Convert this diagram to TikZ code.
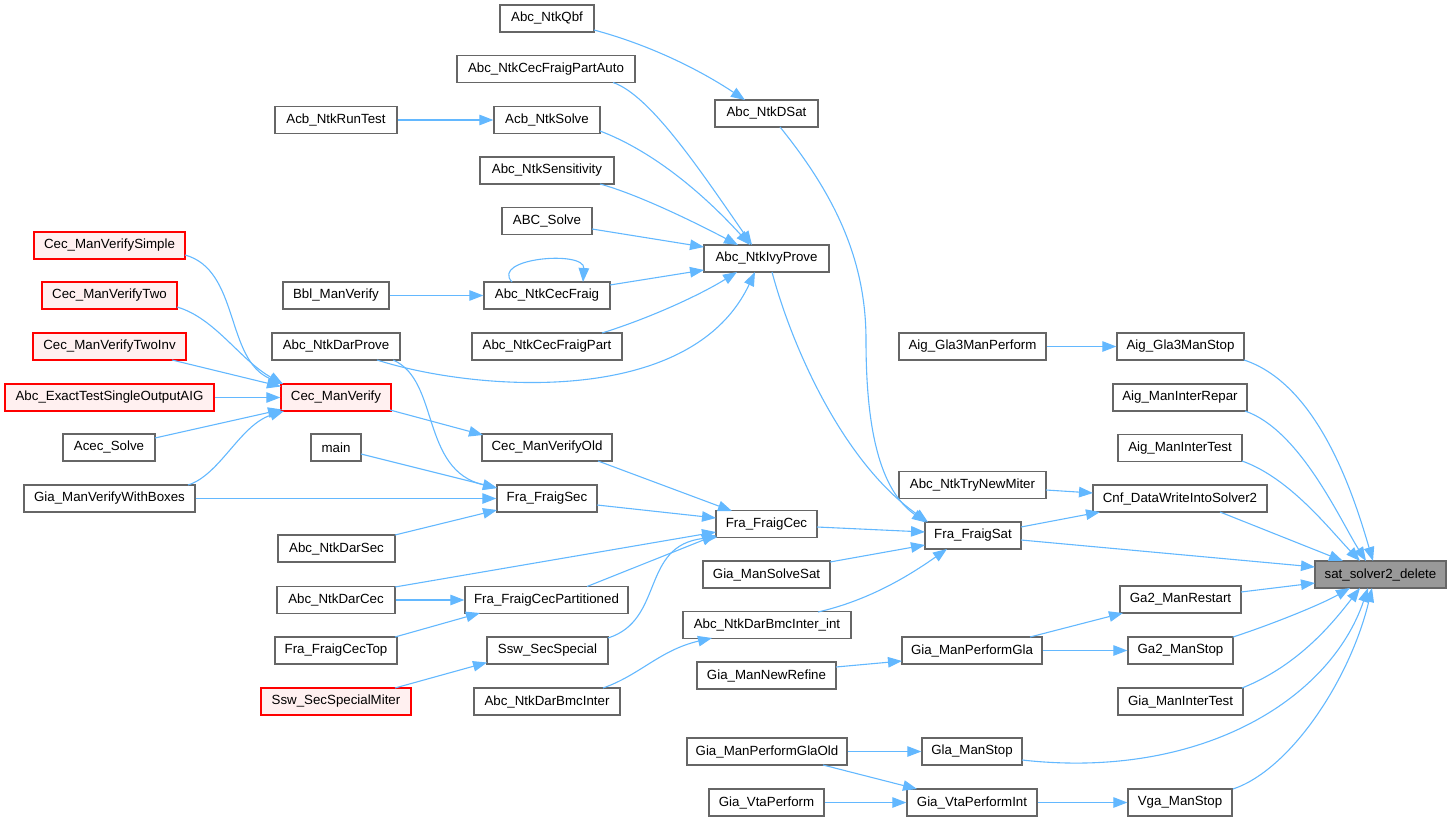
\documentclass[tikz,border=0pt]{standalone}
\usepackage{fontspec}
\setmainfont{Liberation Sans}
\usetikzlibrary{arrows.meta,calc}
\definecolor{boxgray}{HTML}{666666}
\definecolor{edgeblue}{HTML}{63B8FF}
\definecolor{redfill}{HTML}{FFF0F0}
\definecolor{satfill}{HTML}{999999}
\begin{document}
\begin{tikzpicture}[x=1pt,y=-1pt,
  fn/.style={draw=boxgray, line width=1.3pt, fill=white, minimum height=27pt, inner sep=0pt, font=\fontsize{13.3}{16}\selectfont},
  rfn/.style={fn, draw=red, fill=redfill},
  sfn/.style={fn, fill=satfill},
  call/.style={draw=edgeblue, line width=1.1pt, -{Triangle[length=14pt,width=10.5pt]}}]
\useasboundingbox (0,0) rectangle (1451,821);
% nodes
\node[fn, minimum width=94]  (qbf) at (547,18.5) {Abc\_NtkQbf};
\node[fn, minimum width=178] (partauto) at (546,69) {Abc\_NtkCecFraigPartAuto};
\node[fn, minimum width=106] (acbsolve) at (547,120) {Acb\_NtkSolve};
\node[fn, minimum width=134] (sens) at (547,170.5) {Abc\_NtkSensitivity};
\node[fn, minimum width=90]  (abcsolve) at (547,221) {ABC\_Solve};
\node[fn, minimum width=103] (dsat) at (766.5,113.5) {Abc\_NtkDSat};
\node[fn, minimum width=125] (ivy) at (766.5,258.5) {Abc\_NtkIvyProve};
\node[fn, minimum width=122] (runtest) at (336,120) {Acb\_NtkRunTest};
\node[fn, minimum width=126] (cecfraig) at (547,295.5) {Abc\_NtkCecFraig};
\node[fn, minimum width=106] (bbl) at (336,295.5) {Bbl\_ManVerify};
\node[fn, minimum width=150] (fraigpart) at (547,346.5) {Abc\_NtkCecFraigPart};
\node[fn, minimum width=128] (darprove) at (336,346.5) {Abc\_NtkDarProve};
\node[rfn, minimum width=110] (cecverify) at (336,397.5) {Cec\_ManVerify};
\node[fn, minimum width=50]  (mainn) at (336,447.5) {main};
\node[fn, minimum width=130] (verifyold) at (547,447.5) {Cec\_ManVerifyOld};
\node[fn, minimum width=100] (fraigsec) at (547,498.5) {Fra\_FraigSec};
\node[rfn, minimum width=151] (simple) at (109.5,245.5) {Cec\_ManVerifySimple};
\node[rfn, minimum width=135] (two) at (109.5,295.5) {Cec\_ManVerifyTwo};
\node[rfn, minimum width=153] (twoinv) at (109.5,346.5) {Cec\_ManVerifyTwoInv};
\node[rfn, minimum width=209] (exact) at (109.5,397.5) {Abc\_ExactTestSingleOutputAIG};
\node[fn, minimum width=92]  (acec) at (109,447.5) {Acec\_Solve};
\node[fn, minimum width=171] (boxes) at (109.5,498.5) {Gia\_ManVerifyWithBoxes};
\node[fn, minimum width=117] (darsec) at (336.5,548.5) {Abc\_NtkDarSec};
\node[fn, minimum width=118] (darcec) at (336,600) {Abc\_NtkDarCec};
\node[fn, minimum width=122] (cectop) at (336,650.5) {Fra\_FraigCecTop};
\node[rfn, minimum width=150] (miter) at (336,701.5) {Ssw\_SecSpecialMiter};
\node[fn, minimum width=101] (fraigcec) at (766.5,524) {Fra\_FraigCec};
\node[fn, minimum width=163] (cecpart) at (546.5,600) {Fra\_FraigCecPartitioned};
\node[fn, minimum width=121] (sswsec) at (547.5,650.5) {Ssw\_SecSpecial};
\node[fn, minimum width=146] (bmcinter) at (547,701.5) {Abc\_NtkDarBmcInter};
\node[fn, minimum width=127] (solvesat) at (766.5,574.5) {Gia\_ManSolveSat};
\node[fn, minimum width=168] (bmcint) at (767,625) {Abc\_NtkDarBmcInter\_int};
\node[fn, minimum width=139] (newrefine) at (766.5,675.5) {Gia\_ManNewRefine};
\node[fn, minimum width=160] (glaold) at (767,751.5) {Gia\_ManPerformGlaOld};
\node[fn, minimum width=115] (vtaperf) at (766.5,802.5) {Gia\_VtaPerform};
\node[fn, minimum width=147] (gla3perf) at (972.5,346.5) {Aig\_Gla3ManPerform};
\node[fn, minimum width=147] (trynew) at (972.5,485) {Abc\_NtkTryNewMiter};
\node[fn, minimum width=96]  (fraigsat) at (973,535.5) {Fra\_FraigSat};
\node[fn, minimum width=140] (perfgla) at (972,650.5) {Gia\_ManPerformGla};
\node[fn, minimum width=100] (glastop) at (972,751.5) {Gla\_ManStop};
\node[fn, minimum width=130] (vtaint) at (972,802.5) {Gia\_VtaPerformInt};
\node[fn, minimum width=127] (gla3stop) at (1180.5,346.5) {Aig\_Gla3ManStop};
\node[fn, minimum width=134] (repar) at (1180,397.5) {Aig\_ManInterRepar};
\node[fn, minimum width=124] (aigintertest) at (1180,448) {Aig\_ManInterTest};
\node[fn, minimum width=174] (cnf) at (1180,498.5) {Cnf\_DataWriteIntoSolver2};
\node[fn, minimum width=121] (restart) at (1180.5,599.5) {Ga2\_ManRestart};
\node[fn, minimum width=105] (ga2stop) at (1180.5,650.5) {Ga2\_ManStop};
\node[fn, minimum width=125] (giaintertest) at (1180.5,701.5) {Gia\_ManInterTest};
\node[fn, minimum width=104] (vgastop) at (1180,802.5) {Vga\_ManStop};
\node[sfn, minimum width=131] (sat) at (1380.5,574.5) {sat\_solver2\_delete};
% edges
\draw[call] ($(qbf)+(47,11.5)$) .. controls (650,45) and (700,70) .. ($(dsat)+(-21.5,-13.5)$);
\draw[call] ($(dsat)+(13.5,13.5)$) .. controls (835,195) and (866,260) .. (866,340) .. controls (866,430) and (880,490) .. ($(fraigsat)+(-47,-13)$);
\draw[call] ($(partauto)+(67,13.5)$) .. controls (650,95) and (700,170) .. ($(ivy)+(-14.5,-13.5)$);
\draw[call] (runtest.east) -- (acbsolve.west);
\draw[call] ($(acbsolve)+(53,11)$) .. controls (650,150) and (700,190) .. ($(ivy)+(-16.5,-13.5)$);
\draw[call] ($(sens)+(53,13.5)$) .. controls (640,195) and (700,225) .. ($(ivy)+(-28.5,-13.5)$);
\draw[call] ($(abcsolve)+(45,8)$) -- ($(ivy)+(-62.5,-11.5)$);
\draw[call] ($(cecfraig)+(63,-10.5)$) -- ($(ivy)+(-62.5,11.5)$);
\draw[call] ($(cecfraig)+(-35,-13.5)$) .. controls (490,258) and (585,250) .. ($(cecfraig)+(36,-13.5)$);
\draw[call] (bbl.east) -- (cecfraig.west);
\draw[call] ($(fraigpart)+(55,-13.5)$) .. controls (650,318) and (700,295) .. ($(ivy)+(-29.5,13.5)$);
\draw[call] ($(darprove)+(41,13.5)$) .. controls (470,390) and (690,410) .. ($(ivy)+(-11.5,13.5)$);
\draw[call] ($(darprove)+(57,13.5)$) .. controls (440,380) and (420,470) .. ($(fraigsec)+(-50,-10.5)$);
\draw[call] ($(ivy)+(5.5,13.5)$) .. controls (790,340) and (840,460) .. ($(fraigsat)+(-45,-13.5)$);
\draw[call] ($(simple)+(75.5,9.5)$) .. controls (240,270) and (225,360) .. ($(cecverify)+(-53,-13.5)$);
\draw[call] ($(two)+(67.5,11.5)$) .. controls (215,318) and (240,360) .. ($(cecverify)+(-53,-13.5)$);
\draw[call] ($(twoinv)+(62.5,13.5)$) -- ($(cecverify)+(-55,-11)$);
\draw[call] (exact.east) -- (cecverify.west);
\draw[call] ($(acec)+(46,-9.5)$) -- ($(cecverify)+(-54,12)$);
\draw[call] ($(boxes)+(78.5,-13.5)$) .. controls (220,475) and (240,425) .. ($(cecverify)+(-52,13.5)$);
\draw[call] (boxes.east) -- (fraigsec.west);
\draw[call] ($(cecverify)+(54,12.5)$) -- ($(verifyold)+(-64,-12.5)$);
\draw[call] ($(mainn)+(25,6.5)$) -- ($(fraigsec)+(-50,-10.5)$);
\draw[call] ($(verifyold)+(51,13.5)$) -- ($(fraigcec)+(-34.5,-13)$);
\draw[call] ($(fraigsec)+(50,6.5)$) -- ($(fraigcec)+(-50.5,-6)$);
\draw[call] ($(darsec)+(58.5,-13.5)$) -- ($(fraigsec)+(-50,11.5)$);
\draw[call] ($(darcec)+(59,-13)$) -- ($(fraigcec)+(-50.5,8)$);
\draw[call] (darcec.east) -- (cecpart.west);
\draw[call] ($(cectop)+(59,-13.5)$) -- ($(cecpart)+(-66.5,13)$);
\draw[call] ($(cecpart)+(40.5,-13.5)$) -- ($(fraigcec)+(-50.5,11)$);
\draw[call] ($(sswsec)+(60.5,-12.5)$) .. controls (665,620) and (640,545) .. ($(fraigcec)+(-49,13)$);
\draw[call] ($(miter)+(59,-13.5)$) -- ($(sswsec)+(-60.5,12)$);
\draw[call] ($(bmcinter)+(56,-13.5)$) .. controls (640,675) and (660,650) .. ($(bmcint)+(-55,13)$);
\draw[call] ($(fraigcec)+(50.5,3)$) -- ($(fraigsat)+(-48,-3.5)$);
\draw[call] ($(solvesat)+(63.5,-12.5)$) -- ($(fraigsat)+(-48,9.5)$);
\draw[call] ($(bmcint)+(51,-13)$) .. controls (870,600) and (910,575) .. ($(fraigsat)+(-26,13.5)$);
\draw[call] ($(trynew)+(73.5,5)$) -- ($(cnf)+(-87,-5.5)$);
\draw[call] ($(fraigsat)+(48,-8.5)$) -- ($(cnf)+(-80,13.5)$);
\draw[call] ($(fraigsat)+(48,4.5)$) -- ($(sat)+(-65.5,-7.5)$);
\draw[call] (gla3perf.east) -- (gla3stop.west);
\draw[call] ($(gla3stop)+(63.5,13.5)$) .. controls (1320,385) and (1355,500) .. ($(sat)+(-7.5,-13.5)$);
\draw[call] ($(repar)+(65,13.5)$) .. controls (1300,430) and (1340,520) .. ($(sat)+(-14.5,-13.5)$);
\draw[call] ($(aigintertest)+(62,13)$) .. controls (1290,478) and (1330,530) .. ($(sat)+(-20.5,-13.5)$);
\draw[call] ($(cnf)+(40,13.5)$) -- ($(sat)+(-37.5,-13.5)$);
\draw[call] ($(restart)+(60.5,-7.5)$) -- ($(sat)+(-65.5,8.5)$);
\draw[call] ($(ga2stop)+(52.5,-13.5)$) .. controls (1270,625) and (1320,605) .. ($(sat)+(-30.5,13.5)$);
\draw[call] ($(giaintertest)+(61.5,-13.5)$) .. controls (1300,665) and (1335,620) .. ($(sat)+(-20.5,13.5)$);
\draw[call] ($(glastop)+(50,8.5)$) .. controls (1200,780) and (1330,700) .. ($(sat)+(-12.5,13.5)$);
\draw[call] ($(vgastop)+(53,-13.5)$) .. controls (1290,770) and (1350,680) .. ($(sat)+(-8.5,13.5)$);
\draw[call] ($(perfgla)+(58,-13.5)$) -- ($(restart)+(-57.5,13.5)$);
\draw[call] (perfgla.east) -- (ga2stop.west);
\draw[call] ($(newrefine)+(69.5,-8.5)$) -- ($(perfgla)+(-70,10.5)$);
\draw[call] (glaold.east) -- (glastop.west);
\draw[call] ($(glaold)+(56,13.5)$) -- ($(vtaint)+(-55,-13.5)$);
\draw[call] (vtaperf.east) -- (vtaint.west);
\draw[call] (vtaint.east) -- (vgastop.west);
\end{tikzpicture}
\end{document}
